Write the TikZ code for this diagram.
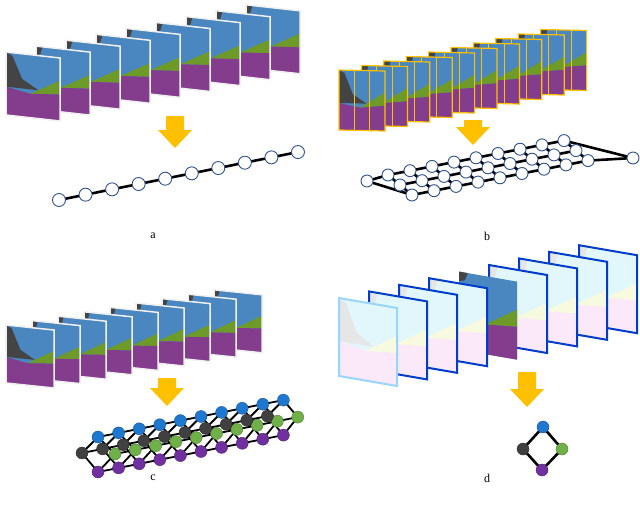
\documentclass[tikz,border=0pt]{standalone}
\usepackage{fontspec}
\setmainfont{Liberation Serif}
\definecolor{nblue}{HTML}{4A86C0}
\definecolor{ngreen}{HTML}{6E9A2A}
\definecolor{npurple}{HTML}{843C8C}
\definecolor{ndark}{HTML}{444444}
\definecolor{wblue}{HTML}{E2F7FC}
\definecolor{wgreen}{HTML}{F8FAE0}
\definecolor{wpurple}{HTML}{FBE8F8}
\definecolor{wdark}{HTML}{E6E6E6}
\definecolor{arrowy}{HTML}{FFC000}
\definecolor{cblue}{HTML}{1F78D0}
\definecolor{cdark}{HTML}{404040}
\definecolor{cgreen}{HTML}{70B048}
\definecolor{cpurple}{HTML}{7030A0}
\definecolor{rim}{HTML}{2F528F}
\newcommand\segframe[8]{%
\begin{scope}[shift={(#1,#2)},x={(#3pt,-#5pt)},y={(0pt,-#4pt)}]
 \fill[#6blue] (0,0)--(1,0)--(1,1)--(0,1)--cycle;
 \fill[#6dark] #8;
 \fill[#6green] (0.45,0.62)--(1,0.36)--(1,0.58)--cycle;
 \fill[#6purple] (0,0.55)--(0.45,0.62)--(1,0.58)--(1,1)--(0,1)--cycle;
 \draw[#7] (0,0)--(1,0)--(1,1)--(0,1)--cycle;
\end{scope}}
\newcommand\bsplit[2]{%
\begin{scope}[shift={(#1,#2)},x={(46pt,-1pt)},y={(0pt,-60pt)}]
 \draw[arrowy,line width=0.8pt] (1/3,0)--(1/3,1) (2/3,0)--(2/3,1);
\end{scope}}
\newcommand\yarrow[3]{\fill[arrowy] (#1-9,#2)--(#1+9,#2)--(#1+9,#3-18)--(#1+17,#3-18)--(#1,#3)--(#1-17,#3-18)--(#1-9,#3-18)--cycle;}
\tikzset{
 onode/.style={circle,minimum size=13pt,inner sep=0pt,fill=white,draw=rim,line width=0.9pt},
 cnode/.style={circle,minimum size=12pt,inner sep=0pt,fill=#1,draw=#1!70!black,line width=0.4pt},
 edge/.style={line width=2.6pt,black},
 lab/.style={font=\fontsize{12}{14}\selectfont}
}
\begin{document}
\begin{tikzpicture}[x=1pt,y=-1pt]
\useasboundingbox (0,0) rectangle (640,512);
% ---- panel a
\foreach \i in {8,...,1}{\segframe{6+30*\i}{52-5.9*\i}{54}{63}{6}{n}{white!88!gray,line width=1.5pt}{(0,0)--(0.12,0)--(0.08,0.12)--(0,0.15)--cycle}}
\segframe{6}{52}{54}{63}{6}{n}{white!88!gray,line width=1.5pt}{(0,0)--(0.12,0.05)--(0.3,0.4)--(0.6,0.55)--(0,0.55)--cycle}
\yarrow{175}{116}{148}
\foreach \i in {0,...,9}{\coordinate (ca\i) at (59+26.55*\i,200-5.33*\i);}
\foreach \i [evaluate=\i as \j using int(\i+1)] in {0,...,8}{\draw[edge] (ca\i)--(ca\j);}
\foreach \i in {0,...,9}{\node[onode] (a\i) at (ca\i) {};}
\node[lab] (la) at (153,236) {a};
% ---- panel b
\foreach \i in {9,...,1}{\segframe{339+22.4*\i}{70-4.5*\i}{46}{60}{1}{n}{arrowy,line width=1.2pt}{(0,0)--(0.15,0)--(0.1,0.15)--(0,0.2)--cycle}\bsplit{339+22.4*\i}{70-4.5*\i}}
\segframe{339}{70}{46}{60}{1}{n}{arrowy,line width=1.2pt}{(0,0)--(0.12,0.05)--(0.3,0.4)--(0.6,0.55)--(0,0.55)--cycle}\bsplit{339}{70}
\yarrow{473}{120}{145}
\foreach \r in {0,1,2}{\foreach \i in {0,...,8}{\coordinate (b\r-\i) at (388+12*\r+22*\i,175+10*\r-4.3*\i);}}
\coordinate (bL) at (367,181);
\coordinate (bR) at (633,158);
\foreach \r in {0,1,2}{\foreach \i [evaluate=\i as \j using int(\i+1)] in {0,...,7}{\draw[edge] (b\r-\i)--(b\r-\j);}}
\foreach \i in {0,...,8}{\draw[edge] (b0-\i)--(b1-\i)--(b2-\i);}
\draw[edge] (bL)--(b0-0) (bL)--(b2-0) (bR)--(b0-8) (bR)--(b2-8);
\foreach \r in {0,1,2}{\foreach \i in {0,...,8}{\node[onode,minimum size=12pt] (nb\r-\i) at (b\r-\i) {};}}
\node[onode,minimum size=12pt] (nbL) at (bL) {};
\node[onode,minimum size=12pt] (nbR) at (bR) {};
\node[lab] (lb) at (487,236) {b};
% ---- panel c
\foreach \i in {8,...,1}{\segframe{6+26*\i}{325-4.4*\i}{48}{58}{5}{n}{white!88!gray,line width=1.5pt}{(0,0)--(0.12,0)--(0.08,0.12)--(0,0.15)--cycle}}
\segframe{6}{325}{48}{58}{5}{n}{white!88!gray,line width=1.5pt}{(0,0)--(0.12,0.05)--(0.3,0.4)--(0.6,0.55)--(0,0.55)--cycle}
\yarrow{167}{378}{406}
\foreach \i in {0,...,9}{
 \coordinate (cb\i) at (98+20.6*\i,437-4.1*\i);
 \coordinate (cp\i) at (98+20.6*\i,472-4.1*\i);
 \coordinate (cd\i) at (82+20.6*\i,453-4.1*\i);
 \coordinate (cg\i) at (115+20.3*\i,454-4.1*\i);}
\foreach \i [evaluate=\i as \j using int(\i+1)] in {0,...,8}{
 \draw[edge,line width=1.8pt] (cb\i)--(cb\j) (cp\i)--(cp\j) (cd\i)--(cd\j) (cg\i)--(cg\j);}
\foreach \i in {0,...,9}{\draw[edge,line width=1.8pt] (cb\i)--(cd\i)--(cp\i)--(cg\i)--cycle;}
\foreach \i in {0,...,9}{
 \node[cnode=cblue] (ncb\i) at (cb\i) {};
 \node[cnode=cdark] (ncd\i) at (cd\i) {};
 \node[cnode=cgreen] (ncg\i) at (cg\i) {};
 \node[cnode=cpurple] (ncp\i) at (cp\i) {};}
\node[lab] (lc) at (153,478) {c};
% ---- panel d
\foreach \i in {8,7,6,5}{\segframe{339+30*\i}{298-6.6*\i}{58}{78}{10}{w}{blue!70!cyan!80!black,line width=2pt}{(0,0)--(0.15,0)--(0.1,0.15)--(0,0.2)--cycle}}
\segframe{339+30*4}{298-6.6*4}{58}{78}{10}{n}{draw=none}{(0,0)--(0.15,0)--(0.1,0.1)--(0,0.12)--cycle}
\foreach \i in {3,2,1}{\segframe{339+30*\i}{298-6.6*\i}{58}{78}{10}{w}{blue!70!cyan!80!black,line width=2pt}{(0,0)--(0.15,0)--(0.1,0.15)--(0,0.2)--cycle}}
\segframe{339}{298}{58}{78}{10}{w}{blue!40!cyan!40!white,line width=2pt}{(0,0)--(0.12,0.05)--(0.3,0.4)--(0.6,0.55)--(0,0.55)--cycle}
\yarrow{527}{372}{407}
\coordinate (dB) at (543,427);
\coordinate (dD) at (523,449);
\coordinate (dG) at (562,449);
\coordinate (dP) at (542,470);
\draw[edge] (dB)--(dD)--(dP)--(dG)--cycle;
\node[cnode=cblue] (ndB) at (dB) {};
\node[cnode=cdark] (ndD) at (dD) {};
\node[cnode=cgreen] (ndG) at (dG) {};
\node[cnode=cpurple] (ndP) at (dP) {};
\node[lab] (ld) at (487,478) {d};
\end{tikzpicture}
\end{document}
